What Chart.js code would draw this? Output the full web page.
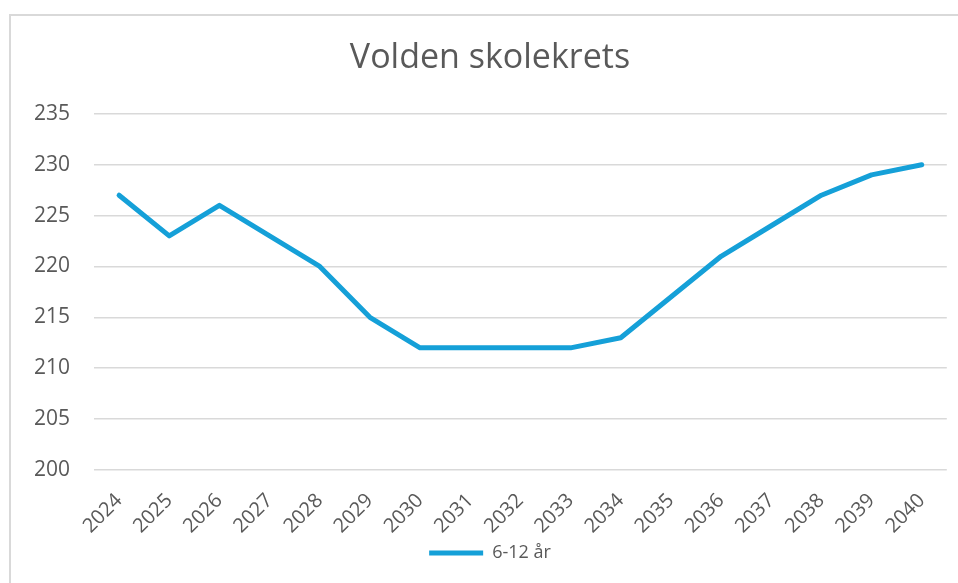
<!DOCTYPE html>
<html>
<head>
<meta charset="utf-8">
<script src="https://cdn.jsdelivr.net/npm/chart.js@4"></script>
<style>
  html, body { margin: 0; padding: 0; background: #fff; }
  #wrap { position: relative; width: 958px; height: 583px; overflow: hidden; }
  #frame { position: absolute; left: 9px; top: 14px; width: 1000px; height: 700px;
           border-top: 2px solid #d9d9d9; border-left: 2px solid #d9d9d9; }
  canvas { position: absolute; left: 0; top: 0; }
</style>
</head>
<body>
<div id="wrap">
  <div id="frame"></div>
  <canvas id="chart" width="958" height="583"></canvas>
</div>
<script>
const years = ['2024', '2025', '2026', '2027', '2028', '2029', '2030', '2031', '2032',
               '2033', '2034', '2035', '2036', '2037', '2038', '2039', '2040'];
const pupils = [227, 223, 226, 223, 220, 215, 212, 212, 212, 212, 213, 217, 221, 224, 227, 229, 230];
const seriesName = '6-12 år';
const chartTitle = 'Volden skolekrets';

const FONT = '"Open Sans", "Liberation Sans", sans-serif';
const TEXT = '#595959';
const BLUE = '#15A0D8';

const data = {
    labels: years,
    datasets: [
        {
            label: seriesName,
            data: pupils,
            borderColor: BLUE,
            backgroundColor: BLUE,
            borderWidth: 5,
            borderCapStyle: 'round',
            borderJoinStyle: 'round',
            pointRadius: 0,
            tension: 0
        }
    ]
};

const config = {
    type: 'line',
    data: data,
    options: {
        responsive: false,
        animation: false,
        // left padding moves title/legend centre to the middle of the frame
        layout: { padding: { left: 32, right: 10, top: 0, bottom: 11 } },
        plugins: {
            title: {
                display: true,
                text: chartTitle,
                color: TEXT,
                font: { family: FONT, size: 34, weight: 'normal' },
                padding: { top: 38, bottom: 35 }
            },
            legend: {
                position: 'bottom',
                labels: {
                    color: TEXT,
                    font: { family: FONT, size: 18 },
                    usePointStyle: true,
                    pointStyle: 'line',
                    pointStyleWidth: 54,
                    padding: 10
                }
            },
            tooltip: { enabled: false }
        },
        scales: {
            x: {
                offset: true,
                grid: { display: false, drawTicks: false },
                border: { display: false },
                ticks: {
                    color: TEXT,
                    font: { family: FONT, size: 20 },
                    minRotation: 45,
                    maxRotation: 45,
                    padding: 19
                },
                afterFit: (s) => { s.height = 64; }
            },
            y: {
                min: 200,
                max: 235,
                grid: { color: '#d9d9d9', lineWidth: 1.5, drawTicks: false },
                border: { display: false },
                ticks: {
                    stepSize: 5,
                    color: TEXT,
                    font: { family: FONT, size: 21 },
                    padding: 24
                },
                afterFit: (s) => { s.width = 62; }
            }
        }
    }
};

const myChart = new Chart(document.getElementById('chart'), config);
</script>
</body>
</html>
